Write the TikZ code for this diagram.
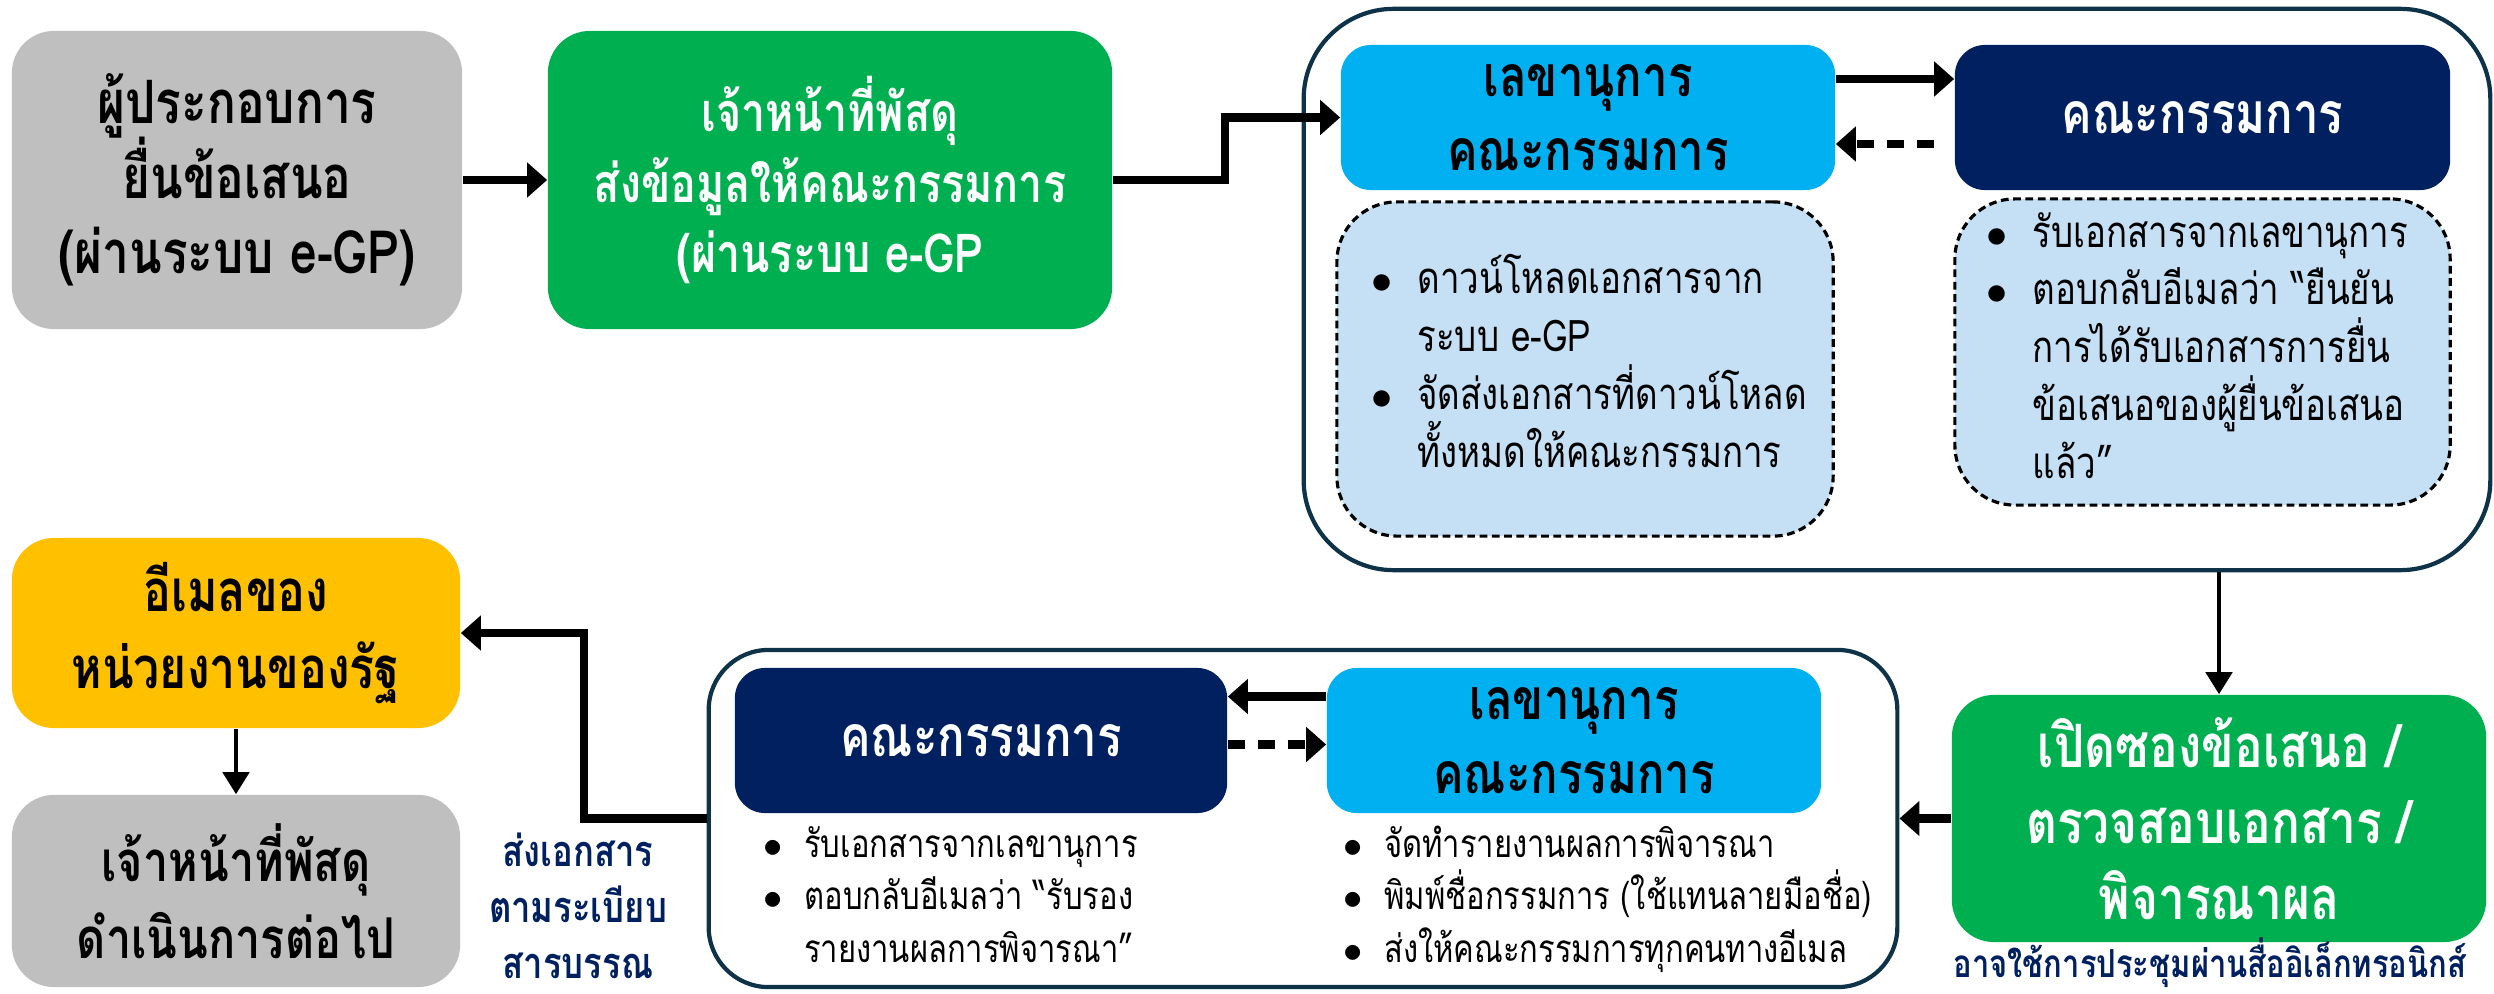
\documentclass[tikz,border=0pt]{standalone}
\usepackage{fontspec}
\usetikzlibrary{arrows.meta,calc}
\newfontfamily\thai[Script=Thai,FakeStretch=0.8]{Loma}
\definecolor{cgray}{HTML}{BFBFBF}
\definecolor{cgreen}{HTML}{00B050}
\definecolor{clblue}{HTML}{00B0F0}
\definecolor{cnavy}{HTML}{002060}
\definecolor{cyellow}{HTML}{FFC000}
\definecolor{cpale}{HTML}{C5E0F4}
\definecolor{cframe}{HTML}{0E3247}
\newcommand{\bul}{\makebox[1.05em][l]{$\bullet$}}
\newcommand{\ind}{\hspace*{1.05em}}
\newcommand{\tightls}{\lineskiplimit=-50pt\relax}
\newcommand{\fs}[2]{\fontsize{#1}{#2}\selectfont\tightls}
\begin{document}
\begin{tikzpicture}[x=0.01cm,y=-0.01cm,
  box/.style={rectangle, rounded corners=0.42cm, inner sep=0pt, align=center,
    font=\thai\bfseries\fs{16}{21.3}},
  hdr/.style={rectangle, rounded corners=0.3cm, inner sep=0pt, align=center,
    font=\thai\bfseries\fs{16.2}{21}},
  frame/.style={draw=cframe, line width=1.2pt, inner sep=0pt},
  dbox/.style={draw=black, dash pattern=on 2.2pt off 1.3pt, line width=0.9pt, fill=cpale, rounded corners=0.6cm, inner sep=0pt},
  blist/.style={align=left, inner sep=0pt, anchor=base west,
    font=\thai\fs{12.4}{16.4}},
  slist/.style={align=left, inner sep=0pt, anchor=base west,
    font=\thai\fs{11}{14.9}},
  note/.style={align=center, inner sep=0pt, text=cnavy,
    font=\thai\bfseries\fs{12.3}{16}},
  arr/.style={line width=2.3pt, -{Triangle[length=0.2cm,width=0.34cm]}},
  darr/.style={line width=2.3pt, dash pattern=on 5pt off 3.5pt, -{Triangle[length=0.2cm,width=0.34cm]}},
  tarr/.style={line width=1.3pt, -{Triangle[length=0.22cm,width=0.26cm]}}
]
\useasboundingbox (0,0) rectangle (2494,994);

% containers
\node[frame, rounded corners=0.9cm, minimum width=11.86cm, minimum height=5.61cm] (topc) at (1897,289.5) {};
\node[frame, rounded corners=0.6cm, minimum width=11.88cm, minimum height=3.37cm] (botc) at (1303,818.5) {};

% top row
\node[box, fill=cgray, minimum width=4.50cm, minimum height=2.98cm, font=\thai\bfseries\fs{17}{21.3}] (b1) at (237,180)
  {ผู้ประกอบการ\\ยื่นข้อเสนอ\\(ผ่านระบบ e-GP)};
\node[box, fill=cgreen, text=white, minimum width=5.64cm, minimum height=2.98cm, font=\thai\bfseries\fs{15.3}{20}] (b2) at (830,180)
  {เจ้าหน้าที่พัสดุ\\ส่งข้อมูลให้คณะกรรมการ\\(ผ่านระบบ e-GP};
\node[hdr, fill=clblue, minimum width=4.94cm, minimum height=1.45cm] (tsec) at (1588,117.5)
  {เลขานุการ\\คณะกรรมการ};
\node[hdr, fill=cnavy, text=white, minimum width=4.95cm, minimum height=1.45cm] (tcom) at (2202.5,117.5)
  {คณะกรรมการ};
\node[dbox, minimum width=4.96cm, minimum height=3.34cm] (tsecd) at (1585,369) {};
\node[dbox, minimum width=4.95cm, minimum height=3.06cm] (tcomd) at (2202.5,352) {};
\node[blist] (tsect) at (1371,467)
  {\bul ดาวน์โหลดเอกสารจาก\\\ind ระบบ e-GP\\\bul จัดส่งเอกสารที่ดาวน์โหลด\\\ind ทั้งหมดให้คณะกรรมการ};
\node[blist] (tcomt) at (1986,478)
  {\bul รับเอกสารจากเลขานุการ\\\bul ตอบกลับอีเมลว่า “ยืนยัน\\\ind การได้รับเอกสารการยื่น\\\ind ข้อเสนอของผู้ยื่นข้อเสนอ\\\ind แล้ว”};

% right / bottom
\node[box, fill=cgreen, text=white, minimum width=5.34cm, minimum height=2.47cm, font=\thai\bfseries\fs{17}{21.6}] (open) at (2219,818.5)
  {เปิดซองข้อเสนอ /\\ตรวจสอบเอกสาร /\\พิจารณาผล};
\node[note, font=\thai\bfseries\fs{11}{14}] (meet) at (2210,963) {อาจใช้การประชุมผ่านสื่ออิเล็กทรอนิกส์};

\node[hdr, fill=cnavy, text=white, minimum width=4.92cm, minimum height=1.45cm] (bcom) at (981,740.5)
  {คณะกรรมการ};
\node[hdr, fill=clblue, minimum width=4.94cm, minimum height=1.45cm] (bsec) at (1574,740.5)
  {เลขานุการ\\คณะกรรมการ};
\node[slist] (bcomt) at (763,962)
  {\bul รับเอกสารจากเลขานุการ\\\bul ตอบกลับอีเมลว่า “รับรอง\\\ind รายงานผลการพิจารณา”};
\node[slist] (bsect) at (1343,962)
  {\bul จัดทำรายงานผลการพิจารณา\\\bul พิมพ์ชื่อกรรมการ (ใช้แทนลายมือชื่อ)\\\bul ส่งให้คณะกรรมการทุกคนทางอีเมล};

\node[box, fill=cyellow, minimum width=4.48cm, minimum height=1.90cm, font=\thai\bfseries\fs{16.5}{21.8}] (mail) at (236,633)
  {อีเมลของ\\หน่วยงานของรัฐ};
\node[box, fill=cgray, minimum width=4.48cm, minimum height=1.92cm, font=\thai\bfseries\fs{16}{21.8}] (cont) at (236,891)
  {เจ้าหน้าที่พัสดุ\\ดำเนินการต่อไป};
\node[note] (saraban) at (578,906) {ส่งเอกสาร\\ตามระเบียบ\\สารบรรณ};

% connectors
\draw[arr] (b1.east) -- (b2.west);
\draw[arr] (b2.east) -- ++(112,0) |- (tsec.west);
\draw[arr] ($(tsec.east)+(0,-38.5)$) -- ($(tcom.west)+(0,-38.5)$);
\draw[darr] ($(tcom.west)+(-20,26.5)$) -- ($(tsec.east)+(0,26.5)$);
\draw[tarr] (topc.south -| open.north) -- (open.north);
\draw[arr] (open.west) -- (botc.east);
\draw[arr] ($(bsec.west)+(0,-44)$) -- ($(bcom.east)+(0,-44)$);
\draw[darr] ($(bcom.east)+(0,4)$) -- ($(bsec.west)+(0,4)$);
\draw[arr] (botc.west) -- ++(-123,0) |- (mail.east);
\draw[tarr] (mail.south) -- (cont.north);
\end{tikzpicture}
\end{document}
